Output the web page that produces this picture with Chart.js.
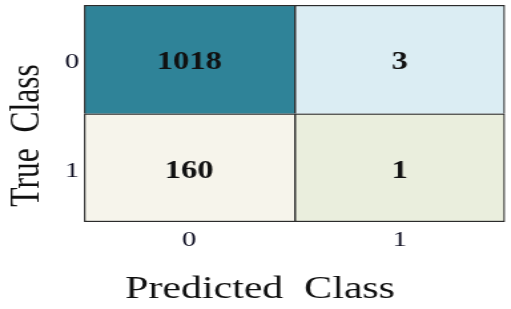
<!DOCTYPE html>
<html>
<head>
<meta charset="utf-8">
<script src="https://cdn.jsdelivr.net/npm/chart.js@4/dist/chart.umd.min.js"></script>
<style>
  html, body { margin: 0; padding: 0; background: #ffffff; overflow: hidden; }
  /* the figure is drawn narrow and widened horizontally */
  #wrap { width: 384px; height: 309px; transform: scaleX(1.3307); transform-origin: 0 0; }
  canvas { display: block; }
</style>
</head>
<body>
<div id="wrap"><canvas id="cm" width="384" height="309"></canvas></div>
<script>
// Confusion matrix: rows = true class, columns = predicted class
const predictedLabels = ['0', '1'];
const trueLabels = ['0', '1'];
const counts = [
  [1018, 3],
  [160, 1]
];
const xTitle = 'Predicted  Class';
const yTitle = 'True  Class';

// cell fill colours, same layout as counts
const cellColors = [
  ['#2f8398', '#dbedf3'],
  ['#f6f4eb', '#eaeedd']
];

const serif = '"Liberation Serif", "Times New Roman", serif';
const lastRow = trueLabels.length - 1;
const lastCol = predictedLabels.length - 1;

// one stacked dataset per true-class row, each cell one unit tall
const datasets = trueLabels.map((label, r) => ({
  label: label,
  data: predictedLabels.map(() => 1),
  backgroundColor: cellColors[r],
  borderColor: '#2b2b2b',
  borderSkipped: false,
  borderWidth: (ctx) => ({
    top: 1.5,
    left: 1.5,
    right: ctx.dataIndex === lastCol ? 1.5 : 0,
    bottom: r === lastRow ? 1.5 : 0
  }),
  barPercentage: 1,
  categoryPercentage: 1
}));

// writes the count in the middle of every cell
const cellText = {
  id: 'cellText',
  afterDatasetsDraw(chart) {
    const ctx = chart.ctx;
    ctx.save();
    ctx.font = 'bold 24.5px ' + serif;
    ctx.fillStyle = '#111111';
    ctx.textAlign = 'center';
    ctx.textBaseline = 'middle';
    chart.data.datasets.forEach((ds, r) => {
      chart.getDatasetMeta(r).data.forEach((bar, c) => {
        const p = bar.getProps(['x', 'y', 'base'], true);
        ctx.fillText(String(counts[r][c]), p.x, (p.y + p.base) / 2 + 3.5);
      });
    });
    ctx.restore();
  }
};

// axis titles
const axisTitles = {
  id: 'axisTitles',
  afterDraw(chart) {
    const ctx = chart.ctx;
    const area = chart.chartArea;
    ctx.save();
    ctx.fillStyle = '#111111';
    ctx.font = '31.5px ' + serif;
    ctx.textAlign = 'center';
    ctx.textBaseline = 'alphabetic';
    ctx.fillText(xTitle, area.left + 132.3, area.bottom + 76);
    ctx.translate(area.left - 34.5, area.top + 130.5);
    ctx.rotate(-Math.PI / 2);
    ctx.fillText(yTitle, 0, 0);
    ctx.restore();
  }
};

new Chart(document.getElementById('cm'), {
  type: 'bar',
  data: { labels: predictedLabels, datasets: datasets },
  options: {
    responsive: false,
    animation: false,
    events: [],
    layout: { padding: { top: 5, right: 4.5, left: 0, bottom: 0 } },
    plugins: { legend: { display: false }, tooltip: { enabled: false } },
    scales: {
      x: {
        stacked: true,
        grid: { display: false, drawTicks: false },
        border: { display: false },
        ticks: { color: '#0a0a1e', padding: 5, font: { family: serif, size: 21.5 } },
        afterFit: (scale) => {
          scale.height = 87;
          scale.paddingLeft = 0;
          scale.paddingRight = 0;
        }
      },
      y: {
        stacked: true,
        reverse: true,
        min: 0,
        max: trueLabels.length,
        grid: { display: false, drawTicks: false },
        border: { display: false },
        afterBuildTicks: (scale) => {
          scale.ticks = trueLabels.map((_, i) => ({ value: i + 0.5 }));
        },
        ticks: {
          color: '#0a0a1e',
          padding: 3.5,
          labelOffset: 3.5,
          font: { family: serif, size: 21.5 },
          callback: (v) => trueLabels[Math.floor(v)]
        },
        afterFit: (scale) => {
          scale.width = 63.1;
          scale.paddingTop = 0;
          scale.paddingBottom = 0;
        }
      }
    }
  },
  plugins: [cellText, axisTitles]
});
</script>
</body>
</html>
